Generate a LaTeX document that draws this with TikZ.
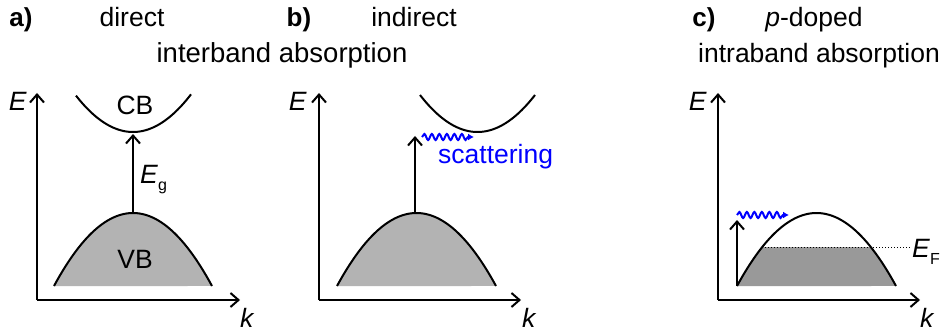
\documentclass[tikz,border=0pt]{standalone}
\usepackage{fontspec}
\setmainfont{Liberation Sans}
\usetikzlibrary{arrows.meta,decorations.pathmorphing}
\definecolor{vbgray}{RGB}{179,179,179}
\definecolor{dopegray}{RGB}{153,153,153}
\definecolor{wblue}{RGB}{0,0,255}
\newcommand{\sub}[1]{\raisebox{-0.28em}{\fontsize{16}{16}\selectfont #1}}
\begin{document}
\begin{tikzpicture}[x=1pt,y=-1pt,
  txt/.style={inner sep=0pt,anchor=base,font=\fontsize{26.5}{30}\selectfont},
  ttl/.style={inner sep=0pt,anchor=base,font=\fontsize{27.5}{30}\selectfont},
  axis/.style={line width=2pt,-{Straight Barb[length=8pt,width=14pt,line width=2pt]}},
  band/.style={line width=2pt},
  upar/.style={line width=2pt,-{Straight Barb[length=8pt,width=14pt,line width=2pt]}},
  wave/.style={wblue,line width=2pt,decorate,decoration={snake,amplitude=3pt,segment length=7.5pt,post length=6pt},-{Latex[length=6pt,width=7pt]}},
]
\useasboundingbox (0,0) rectangle (942,334);
% ---------- titles ----------
\node[txt,font=\fontsize{26}{30}\selectfont\bfseries] (la) at (21,27) {a)};
\node[txt] (ta) at (132,27) {direct};
\node[txt,font=\fontsize{26}{30}\selectfont\bfseries] (lb) at (299,27) {b)};
\node[txt] (tb) at (414,27) {indirect};
\node[ttl] (tab) at (282,63) {interband absorption};
\node[txt,font=\fontsize{26}{30}\selectfont\bfseries] (lc) at (704,27) {c)};
\node[txt] (tc) at (814,27) {\textit{p}-doped};
\node[txt] (tcc) at (819,63) {intraband absorption};
% ---------- panel a ----------
\coordinate (aO) at (37,300);
\coordinate (aE) at (37,93);
\coordinate (aK) at (240,300);
\fill[vbgray] plot[domain=-79:79,samples=60] ({133+\x},{213+73*(\x/79)^2}) -- cycle;
\draw[band] plot[domain=-79:79,samples=60] ({133+\x},{213+73*(\x/79)^2});
\draw[band] plot[domain=-57:58,samples=60] ({133+\x},{132-37*(\x/57.5)^2});
\coordinate (aV) at (133,213);
\coordinate (aC) at (133,134);
\draw[upar] (aV) -- (aC);
\draw[axis] (aO) -- (aE);
\draw[axis] (aO) -- (aK);
\node[txt,anchor=base east] (aEl) at (27,111) {\textit{E}};
\node[txt,anchor=base west] (akl) at (240,327) {\textit{k}};
\node[txt] (cb) at (135,115) {CB};
\node[txt] (vb) at (135,268) {VB};
\node[txt,anchor=base west] (eg) at (140,183) {\textit{E}\sub{g}};
% ---------- panel b ----------
\coordinate (bO) at (319,300);
\coordinate (bE) at (319,93);
\coordinate (bK) at (521,300);
\fill[vbgray] plot[domain=-79.5:79.5,samples=60] ({416.5+\x},{213+73*(\x/79.5)^2}) -- cycle;
\draw[band] plot[domain=-79.5:79.5,samples=60] ({416.5+\x},{213+73*(\x/79.5)^2});
\draw[band] plot[domain=-57.5:57.5,samples=60] ({477.5+\x},{132-37*(\x/57.5)^2});
\coordinate (bV) at (415,213);
\coordinate (bC) at (415,136);
\draw[upar] (bV) -- (bC);
\coordinate (bW1) at (422,137);
\coordinate (bW2) at (474,137);
\draw[wave] (bW1) -- (bW2);
\draw[axis] (bO) -- (bE);
\draw[axis] (bO) -- (bK);
\node[txt,anchor=base east] (bEl) at (307,111) {\textit{E}};
\node[txt,anchor=base west] (bkl) at (522,327) {\textit{k}};
\node[txt,anchor=base west,text=wblue] (sc) at (438,163) {scattering};
% ---------- panel c ----------
\coordinate (cO) at (718,300);
\coordinate (cE) at (718,93);
\coordinate (cK) at (920,300);
\begin{scope}
  \clip (700,247) rectangle (942,290);
  \fill[dopegray] plot[domain=-79.5:79.5,samples=60] ({816.5+\x},{213+73*(\x/79.5)^2}) -- cycle;
\end{scope}
\draw[band] plot[domain=-79.5:79.5,samples=60] ({816.5+\x},{213+73*(\x/79.5)^2});
\coordinate (cF1) at (762,247);
\coordinate (cF2) at (911,247);
\draw[line width=1pt,dotted] (cF1) -- (cF2);
\coordinate (cV) at (737,286);
\coordinate (cC) at (737,220);
\draw[upar] (cV) -- (cC);
\coordinate (cW1) at (737,215);
\coordinate (cW2) at (789,215);
\draw[wave] (cW1) -- (cW2);
\draw[axis] (cO) -- (cE);
\draw[axis] (cO) -- (cK);
\node[txt,anchor=base east] (cEl) at (707,111) {\textit{E}};
\node[txt,anchor=base west] (ckl) at (920,327) {\textit{k}};
\node[txt,anchor=base west] (ef) at (912,257) {\textit{E}\sub{F}};
\end{tikzpicture}
\end{document}
